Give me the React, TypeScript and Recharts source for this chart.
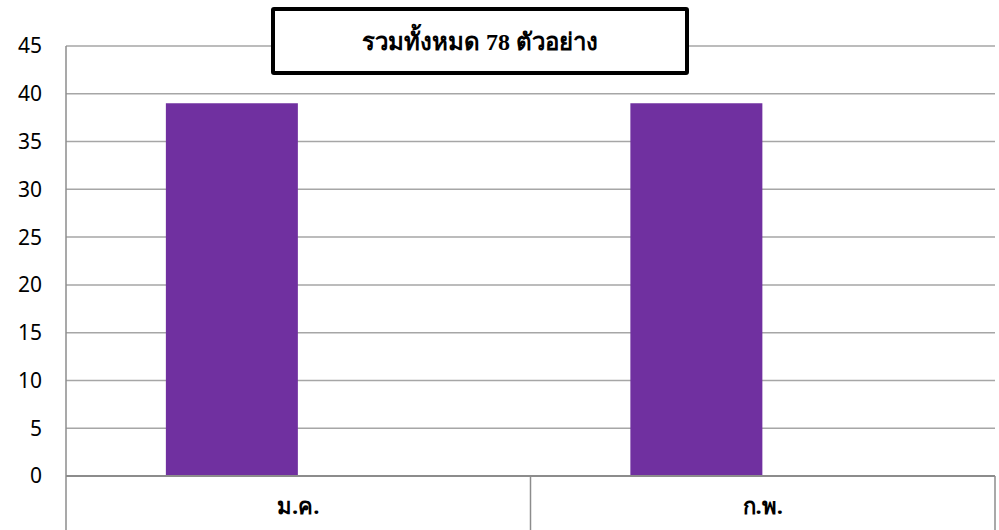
import React from 'react';
import { BarChart, Bar, XAxis, YAxis, CartesianGrid } from 'recharts';

const categories = ['ม.ค.', 'ก.พ.'];
const sampleCounts = [39, 39];
const emptySeries: (number | null)[] = [null, null];
const yTicks = [0, 5, 10, 15, 20, 25, 30, 35, 40, 45];
const titleText = 'รวมทั้งหมด 78 ตัวอย่าง';

const data = categories.map((c, i) => ({ name: c, count: sampleCounts[i], empty: emptySeries[i] }));

const AXIS_COLOR = '#8c8c8c';
const GRID_COLOR = '#a6a6a6';

const CategoryTick = (props: any) => {
  const { x, y, payload, width, visibleTicksCount, index } = props;
  const band = width && visibleTicksCount ? width / visibleTicksCount : (payload.offset || 0) * 2;
  const left = x - band / 2;
  const right = x + band / 2;
  return (
    <g>
      <line x1={left} y1={y} x2={left} y2={y + 60} stroke={AXIS_COLOR} strokeWidth={1.5} />
      {index === visibleTicksCount - 1 && (
        <line x1={right} y1={y} x2={right} y2={y + 60} stroke={AXIS_COLOR} strokeWidth={1.5} />
      )}
      <text
        x={x}
        y={y + 38}
        textAnchor="middle"
        fontFamily="Tahoma, 'Noto Sans', 'DejaVu Sans', sans-serif"
        fontWeight="bold"
        fontSize={22}
        fill="#000"
      >
        {payload.value}
      </text>
    </g>
  );
};

export default function App() {
  return (
    <div style={{ position: 'absolute', left: 0, top: 0, width: 999, height: 530, background: '#fff' }}>
      <BarChart
        width={999}
        height={530}
        data={data}
        margin={{ top: 46, right: 4, left: 10, bottom: 0 }}
        barCategoryGap="21.5%"
        barGap={0}
      >
        <CartesianGrid vertical={false} stroke={GRID_COLOR} strokeWidth={1.5} />
        <YAxis
          domain={[0, 45]}
          ticks={yTicks}
          width={56}
          tickLine={false}
          tickSize={0}
          tickMargin={24}
          axisLine={{ stroke: AXIS_COLOR, strokeWidth: 1.5 }}
          tick={{ fontFamily: "'Noto Sans', sans-serif", fontSize: 21, fill: '#000' }}
          interval={0}
        />
        <XAxis
          dataKey="name"
          height={54}
          tickLine={false}
          tickSize={0}
          tickMargin={0}
          axisLine={{ stroke: AXIS_COLOR, strokeWidth: 2 }}
          tick={<CategoryTick />}
          interval={0}
        />
        <Bar dataKey="count" fill="#7030a0" isAnimationActive={false} />
        <Bar dataKey="empty" fill="#00b050" isAnimationActive={false} />
      </BarChart>
      <div
        style={{
          position: 'absolute',
          left: 271,
          top: 7,
          width: 410,
          height: 60,
          border: '4px solid #000',
          borderRadius: 3,
          background: '#fff',
          display: 'flex',
          alignItems: 'center',
          justifyContent: 'center',
          fontFamily: "'Liberation Serif', 'DejaVu Serif', serif",
          fontWeight: 'bold',
          fontSize: 24,
          color: '#000',
        }}
      >
        {titleText}
      </div>
    </div>
  );
}
